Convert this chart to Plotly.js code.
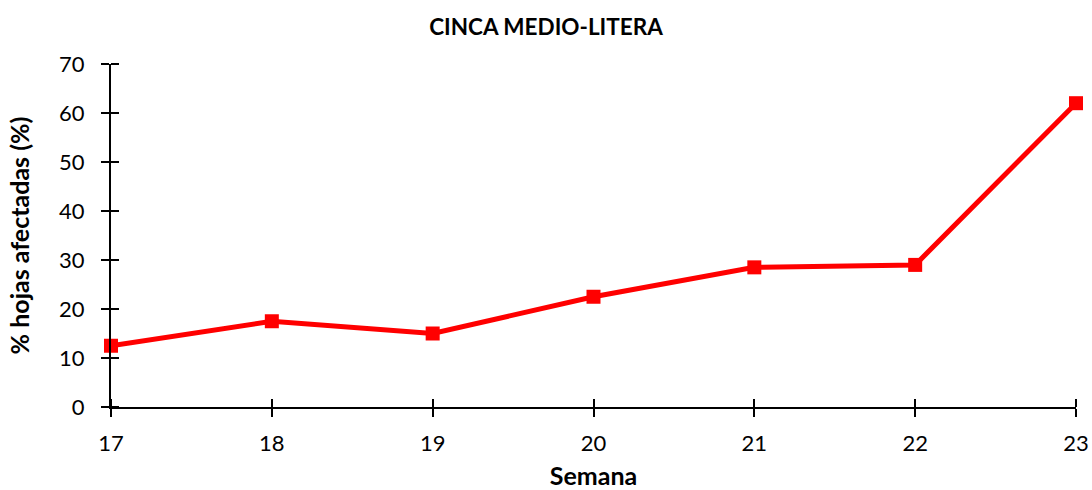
<!DOCTYPE html>
<html>
<head>
<meta charset="utf-8">
<script src="https://cdn.plot.ly/plotly-3.0.1.min.js"></script>
<style>html,body{margin:0;padding:0;background:#fff;}#chart{width:1092px;height:490px;}</style>
</head>
<body>
<div id="chart"></div>
<script>
const semanas = [17, 18, 19, 20, 21, 22, 23];
const hojasAfectadas = [12.5, 17.5, 15, 22.5, 28.5, 29, 62];
const xTicks = [17, 18, 19, 20, 21, 22, 23];
const yTicks = [0, 10, 20, 30, 40, 50, 60, 70];
const chartTitle = "CINCA MEDIO-LITERA";
const xTitle = "Semana";
const yTitle = "% hojas afectadas (%)";

const FONT = "Lato, 'Open Sans', sans-serif";
const EPS = 1e-6;

const trace = {
  x: semanas, y: hojasAfectadas, type: 'scatter', mode: 'lines+markers',
  line: {color: '#FF0000', width: 5},
  marker: {symbol: 'square', size: 14, color: '#FF0000'},
  cliponaxis: false, showlegend: false, hoverinfo: 'skip'
};

const innerTicks = (vals) => ({tickmode: 'array', tickvals: vals.map(v => v + EPS), ticks: 'inside', ticklen: 8, tickwidth: 2, tickcolor: '#000', showgrid: false});

const layout = {
  width: 1092, height: 490,
  margin: {l: 111, r: 16, t: 64, b: 83},
  paper_bgcolor: '#fff', plot_bgcolor: '#fff',
  font: {family: FONT, color: '#000', size: 22},
  title: {text: '<b>' + chartTitle + '</b>', font: {family: FONT, size: 22.5, color: '#000'}, x: 0.5, xanchor: 'center', y: 0.945, yanchor: 'middle'},
  xaxis: {
    range: [17, 23], tickmode: 'array', tickvals: xTicks, ticktext: xTicks.map(String),
    showgrid: false, zeroline: false, showline: true, linecolor: '#000', linewidth: 2,
    ticks: 'outside', ticklen: 8, tickwidth: 2, tickcolor: '#000', ticklabelstandoff: 8,
    minor: innerTicks(xTicks),
    tickfont: {family: FONT, size: 22}, fixedrange: true,
    title: {text: '<b>' + xTitle + '</b>', font: {family: FONT, size: 25}, standoff: 20}
  },
  yaxis: {
    range: [0, 70], tickmode: 'array', tickvals: yTicks, ticktext: yTicks.map(String),
    showgrid: false, zeroline: false, showline: true, linecolor: '#000', linewidth: 2,
    ticks: 'outside', ticklen: 8, tickwidth: 2, tickcolor: '#000', ticklabelstandoff: 12,
    minor: innerTicks(yTicks),
    tickfont: {family: FONT, size: 22}, fixedrange: true,
    title: {text: '<b>' + yTitle + '</b>', font: {family: FONT, size: 25}, standoff: 22}
  }
};

Plotly.newPlot('chart', [trace], layout, {staticPlot: true});
</script>
</body>
</html>
